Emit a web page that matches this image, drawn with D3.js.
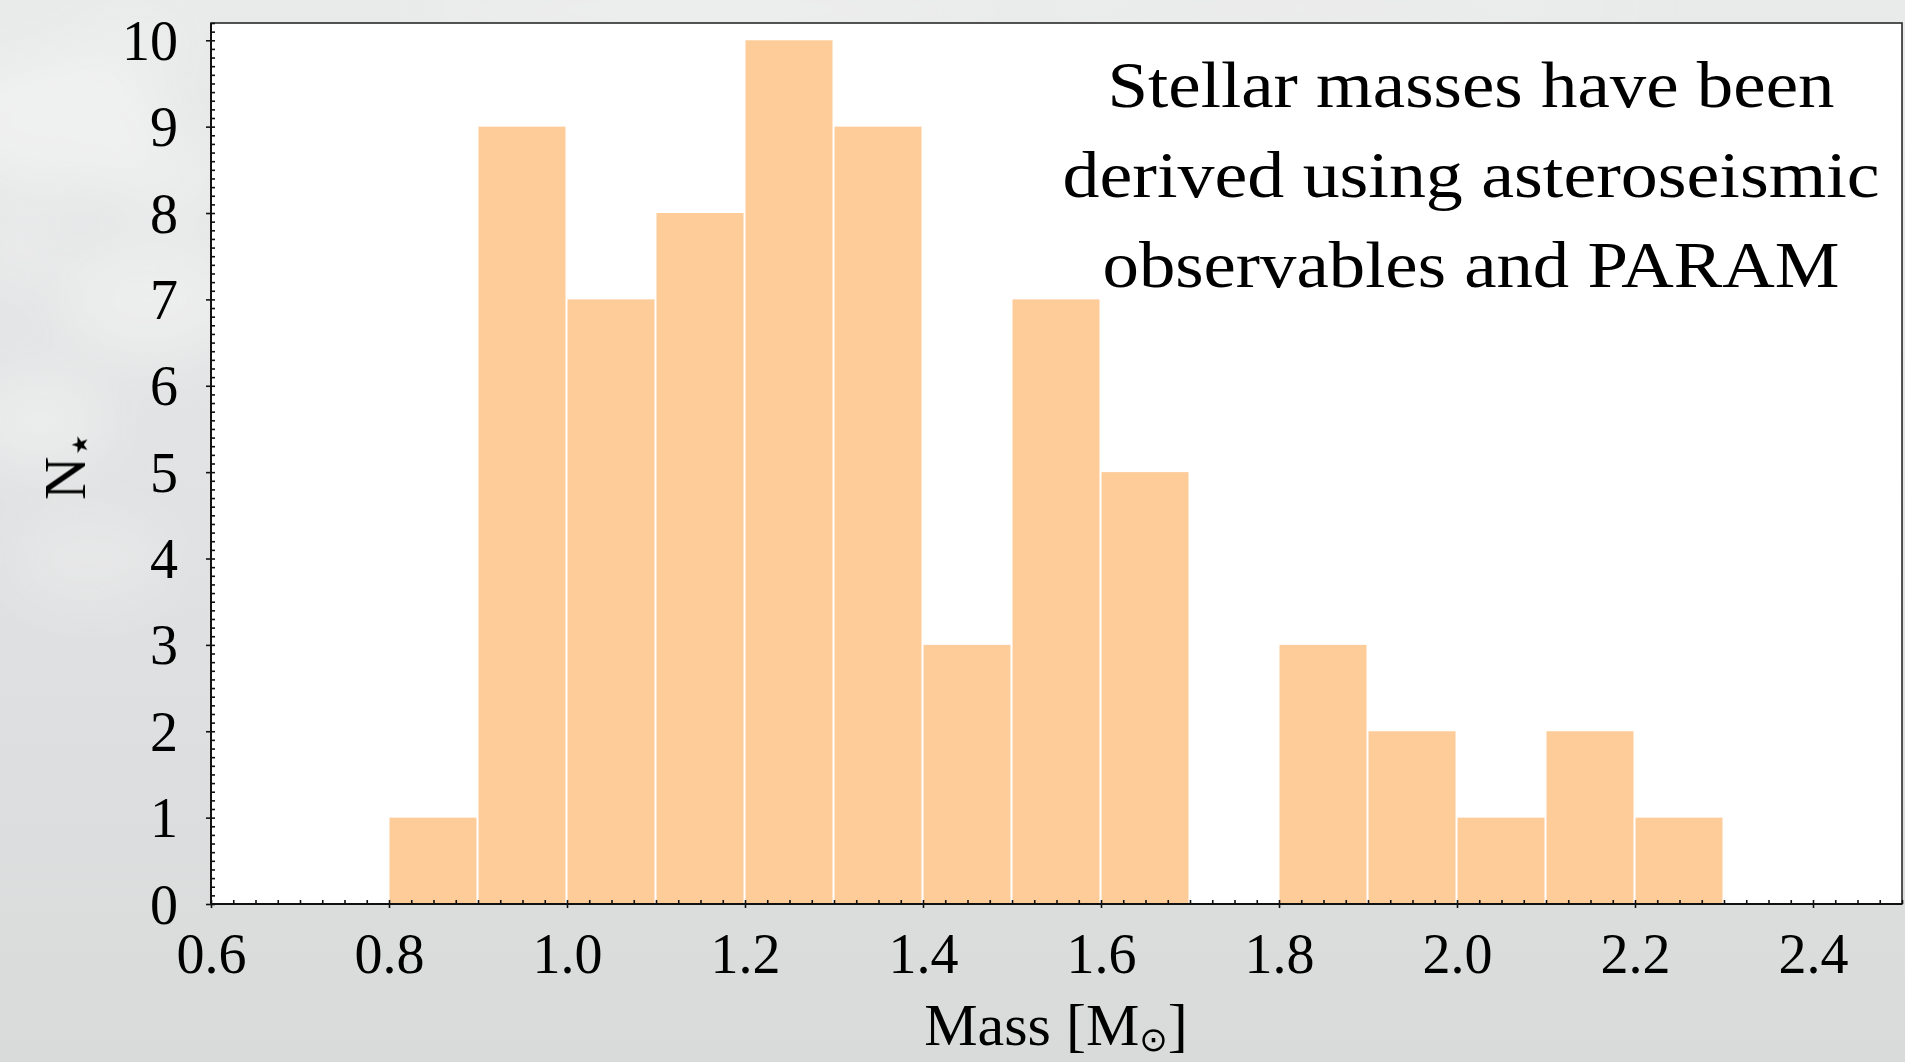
<!DOCTYPE html>
<html>
<head>
<meta charset="utf-8">
<script src="https://cdn.jsdelivr.net/npm/d3@7"></script>
<style>
  html, body { margin: 0; padding: 0; background: #dfe0e0; }
  svg { display: block; }
  .tick text { font-family: "Liberation Serif", "DejaVu Serif", serif; }
</style>
</head>
<body>
<svg id="chart" width="1905" height="1062"></svg>
<script>
// Histogram of stellar masses, bin edges in solar masses
const binStarts = [0.8, 0.9, 1.0, 1.1, 1.2, 1.3, 1.4, 1.5, 1.6, 1.7, 1.8, 1.9, 2.0, 2.1, 2.2];
const binWidth = 0.1;
const counts    = [1,   9,   7,   8,   10,  9,   3,   7,   5,   0,   3,   2,   1,   2,   1];

const xMajorTicks = [0.6, 0.8, 1.0, 1.2, 1.4, 1.6, 1.8, 2.0, 2.2, 2.4];
const yMajorTicks = [0, 1, 2, 3, 4, 5, 6, 7, 8, 9, 10];
const xMinorStep = 0.025;
const yMinorStep = 0.1;

const noteLines = [
  "Stellar masses have been",
  "derived using asteroseismic",
  "observables and PARAM"
];

const W = 1905, H = 1062;
const plot = { left: 211, right: 1902, top: 23, bottom: 904 };
const barColor = "#fecc98";
const serif = '"Liberation Serif", "DejaVu Serif", serif';

const svg = d3.select("#chart");

// ---- soft grey backdrop with a few hazy light patches ----
const defs = svg.append("defs");
const grad = defs.append("linearGradient").attr("id", "bg").attr("x1", 0).attr("y1", 0).attr("x2", 0).attr("y2", 1);
grad.append("stop").attr("offset", "0%").attr("stop-color", "#e9eaea");
grad.append("stop").attr("offset", "55%").attr("stop-color", "#e0e1e2");
grad.append("stop").attr("offset", "100%").attr("stop-color", "#d9dada");
defs.append("filter").attr("id", "haze").attr("x", "-50%").attr("y", "-50%").attr("width", "200%").attr("height", "200%")
  .append("feGaussianBlur").attr("stdDeviation", 24);

svg.append("rect").attr("width", W).attr("height", H).attr("fill", "url(#bg)");
const hazeG = svg.append("g").attr("filter", "url(#haze)");
const patches = [
  [60, 120, 110, 70, 0.55], [150, 300, 90, 60, 0.5], [40, 420, 70, 50, 0.45],
  [170, 180, 60, 40, 0.4], [90, 560, 80, 50, 0.3], [700, 10, 300, 25, 0.35],
  [1300, 8, 350, 20, 0.3], [20, 250, 40, 30, 0.35], [130, 40, 60, 30, 0.3]
];
hazeG.selectAll("ellipse").data(patches).join("ellipse")
  .attr("cx", d => d[0]).attr("cy", d => d[1]).attr("rx", d => d[2]).attr("ry", d => d[3])
  .attr("fill", "#f6f6f6").attr("opacity", d => d[4]);

// ---- scales ----
const x = d3.scaleLinear().domain([0.6, 2.5]).range([plot.left, plot.right]);
const y = d3.scaleLinear().domain([0, 10.2]).range([plot.bottom, plot.top]);

// plotting area
svg.append("rect")
  .attr("x", plot.left).attr("y", plot.top)
  .attr("width", plot.right - plot.left).attr("height", plot.bottom - plot.top)
  .attr("fill", "#ffffff");

// ---- bars ----
const bins = binStarts.map((s, i) => ({ x0: s, x1: s + binWidth, n: counts[i] }));
svg.append("g").selectAll("rect").data(bins.filter(b => b.n > 0)).join("rect")
  .attr("x", d => x(d.x0) + 0.5)
  .attr("width", d => x(d.x1) - x(d.x0) - 2)
  .attr("y", d => y(d.n))
  .attr("height", d => y(0) - y(d.n))
  .attr("fill", barColor);

// ---- frame ----
svg.append("rect")
  .attr("x", plot.left).attr("y", plot.top)
  .attr("width", plot.right - plot.left).attr("height", plot.bottom - plot.top)
  .attr("fill", "none").attr("stroke", "#2a2a2a").attr("stroke-width", 1.6);

// ---- axes ----
const xMinor = d3.range(Math.round((2.5 - 0.6) / xMinorStep) + 1).map(i => +(0.6 + i * xMinorStep).toFixed(3)).filter(v => v <= 2.5);
const yMinor = d3.range(Math.round(10.2 / yMinorStep) + 1).map(i => +(i * yMinorStep).toFixed(2));

function styleAxis(g) {
  g.select(".domain").remove();
  g.selectAll(".tick line").attr("stroke", "#111").attr("stroke-width", 1.6);
}

// x: minor ticks pointing inward
svg.append("g").attr("transform", `translate(0,${plot.bottom})`)
  .call(d3.axisBottom(x).tickValues(xMinor).tickSize(-4).tickFormat(""))
  .call(styleAxis);
// x: major ticks crossing outward, with labels
const gx = svg.append("g").attr("transform", `translate(0,${plot.bottom})`)
  .call(d3.axisBottom(x).tickValues(xMajorTicks).tickSize(4).tickFormat(d3.format(".1f")))
  .call(styleAxis);
gx.selectAll(".tick text")
  .attr("y", 69).attr("dy", 0)
  .attr("font-size", 56).attr("fill", "#000");

// y: minor ticks pointing inward
svg.append("g").attr("transform", `translate(${plot.left},0)`)
  .call(d3.axisLeft(y).tickValues(yMinor).tickSize(-4).tickFormat(""))
  .call(styleAxis);
// y: major ticks crossing outward, with labels
const gy = svg.append("g").attr("transform", `translate(${plot.left},0)`)
  .call(d3.axisLeft(y).tickValues(yMajorTicks).tickSize(5).tickFormat(d3.format("d")))
  .call(styleAxis);
gy.selectAll(".tick text")
  .attr("x", -33).attr("dy", "0.34em")
  .attr("font-size", 56).attr("fill", "#000");

// bottom and left axis lines
svg.append("line").attr("x1", plot.left).attr("x2", plot.right).attr("y1", plot.bottom).attr("y2", plot.bottom)
  .attr("stroke", "#111").attr("stroke-width", 2);
svg.append("line").attr("x1", plot.left).attr("x2", plot.left).attr("y1", plot.top).attr("y2", plot.bottom)
  .attr("stroke", "#111").attr("stroke-width", 2);

// ---- axis titles ----
const xt = svg.append("text")
  .attr("x", 1056).attr("y", 1045)
  .attr("text-anchor", "middle")
  .attr("font-family", serif).attr("font-size", 60).attr("fill", "#000");
xt.append("tspan").text("Mass [M");
xt.append("tspan").attr("font-size", 34).attr("dy", 6).attr("font-family", '"DejaVu Sans", sans-serif').text("⊙");
xt.append("tspan").attr("dy", -6).text("]");

const yt = svg.append("text")
  .attr("transform", `translate(85,${(plot.top + plot.bottom) / 2 + 2}) rotate(-90)`)
  .attr("text-anchor", "middle")
  .attr("font-family", serif).attr("font-size", 60).attr("fill", "#000");
yt.append("tspan").text("N");
yt.append("tspan").attr("font-size", 44).attr("dy", 9).attr("dx", -2).attr("font-family", '"DejaVu Sans", sans-serif').text("⋆");

// ---- annotation ----
const noteWidths = [727, 817, 737];
const noteBaselines = [107, 197, 287];
svg.append("g").selectAll("text").data(noteLines).join("text")
  .attr("x", 1471)
  .attr("y", (d, i) => noteBaselines[i])
  .attr("text-anchor", "middle")
  .attr("font-family", serif)
  .attr("font-size", 66)
  .attr("fill", "#000")
  .attr("textLength", (d, i) => noteWidths[i])
  .attr("lengthAdjust", "spacingAndGlyphs")
  .text(d => d);
</script>
</body>
</html>
